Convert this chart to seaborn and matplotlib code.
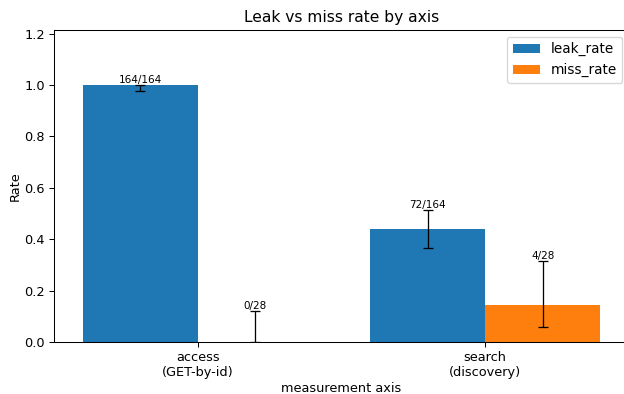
import matplotlib
matplotlib.use("Agg")
import matplotlib.pyplot as plt
import seaborn as sns
import pandas as pd

axes_labels = ["access\n(GET-by-id)", "search\n(discovery)"]
leak_rate = [1.0, 0.439]
miss_rate = [0.0, 0.143]
leak_lo = [0.977, 0.366]
leak_hi = [1.0, 0.515]
miss_lo = [0.0, 0.057]
miss_hi = [0.121, 0.315]
leak_text = ["164/164", "72/164"]
miss_text = ["0/28", "4/28"]

df = pd.DataFrame({
    "axis": axes_labels * 2,
    "metric": ["leak_rate"] * 2 + ["miss_rate"] * 2,
    "rate": leak_rate + miss_rate,
})

DPI = 93
fig, ax = plt.subplots(figsize=(624 / DPI, 394 / DPI), dpi=DPI)
sns.barplot(data=df, x="axis", y="rate", hue="metric",
            palette=["#1f77b4", "#ff7f0e"], saturation=1,
            errorbar=None, width=0.8, ax=ax)

series = [(leak_rate, leak_lo, leak_hi, leak_text),
          (miss_rate, miss_lo, miss_hi, miss_text)]
patches = ax.patches
for s, (vals, lo, hi, txt) in enumerate(series):
    for i in range(len(vals)):
        p = patches[s * len(vals) + i]
        xc = p.get_x() + p.get_width() / 2
        ax.errorbar([xc], [vals[i]],
                    yerr=[[vals[i] - lo[i]], [hi[i] - vals[i]]],
                    fmt="none", ecolor="black", elinewidth=1, capsize=4)
        ax.text(xc, hi[i], txt[i], ha="center", va="bottom", fontsize=8)

ax.set_xlim(-0.5, 1.5)
ax.set_ylim(0, 1.214)
ax.set_title("Leak vs miss rate by axis")
ax.set_xlabel("measurement axis", labelpad=2)
ax.set_ylabel("Rate", labelpad=2)
ax.legend(loc="upper right", title=None, fontsize=10.5)
fig.subplots_adjust(left=54 / 624, right=629 / 624, top=1 - 30 / 394, bottom=1 - 342 / 394)
fig.savefig("out.png", dpi=DPI)
